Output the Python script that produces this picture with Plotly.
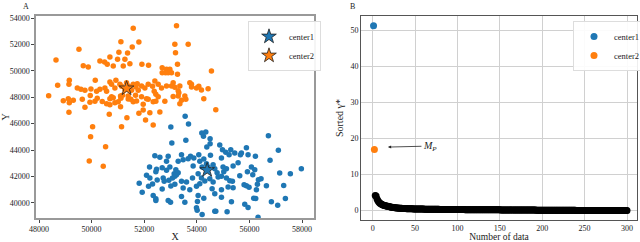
import plotly.graph_objects as go

# ---------------- Panel A data ----------------
orange_x = [53228, 51583, 51114, 51798, 53165, 53672, 51545, 49519, 51038, 51367, 53190,
            48646, 50696, 50316, 50987, 51266, 49683, 49873, 50493, 50595, 50823, 51203,
            51456, 51912, 52165, 52684, 52849, 52684, 52811, 52912, 52975, 53038, 53266,
            53266, 54557, 49152, 50139, 49747, 50316, 50696, 50759, 50924, 51076, 51329,
            51392, 51583, 51899, 52152, 52405, 52532, 52849, 53038, 53101, 53355, 53734,
            53798, 54177, 54430, 48709, 49456, 49595, 49975, 50190, 50506, 50570, 50886,
            51139, 51266, 51456, 51519, 51684, 51735, 51773, 52026, 52317, 52380, 52659,
            53165, 53292, 53798, 53988, 54076, 49139, 49646, 49114, 49304, 49937, 50127,
            50696, 50886, 50759, 51101, 51177, 51392, 51494, 51671, 51899, 52089, 52443,
            52532, 52785, 53292, 53317, 53545, 54266, 48367, 48924, 49152, 49139, 49747,
            49949, 50215, 50405, 50570, 50696, 50823, 51013, 51114, 51392, 51583, 51709,
            51962, 52152, 52342, 51101, 51342, 51798, 51962, 52051, 52215, 52443, 52595,
            53101, 53355, 53418, 53583, 54722, 50038, 49962, 50532, 51139, 52342, 49911,
            50443, 50671]
orange_y = [53443, 53240, 52228, 52202, 52025, 52025, 51822, 51645, 51417, 51367, 51392,
            50835, 51063, 50759, 50886, 50886, 50405, 50304, 50683, 50506, 50379, 50379,
            50557, 50506, 50430, 50253, 50126, 49873, 49873, 49873, 50126, 49873, 50506,
            49746, 50000, 49291, 49291, 48531, 48607, 49164, 48987, 49291, 48987, 49114,
            48860, 48987, 48860, 48987, 49240, 48987, 48860, 48860, 49114, 48860, 49114,
            48987, 48556, 48657, 48911, 48708, 48607, 48632, 48455, 48708, 48455, 48708,
            48835, 48581, 48784, 48531, 48784, 49038, 48531, 48708, 48835, 48455, 48708,
            48759, 48506, 48784, 48708, 48835, 48987, 47848, 47898, 47772, 47620, 47696,
            47899, 47595, 48050, 48101, 48152, 48101, 47848, 48152, 48050, 47899, 48227,
            48050, 47696, 48101, 48354, 48101, 47899, 48126, 47747, 47595, 46861, 47240,
            48139, 47937, 47684, 47506, 47443, 47975, 47671, 47924, 47873, 47671, 47722,
            47468, 47848, 47671, 47291, 46456, 46785, 47038, 46278, 46835, 47696, 46886,
            48063, 47506, 47785, 47848, 47063, 45772, 45012, 44253, 45772, 45898, 43164,
            42759, 46709]
orange_star_x = [51330]
orange_star_y = [48680]

blue_x = [53557, 53684, 53013, 53051, 53583, 54190, 54253, 54342, 54506, 54506, 54380,
          53418, 52912, 52405, 52595, 52849, 53292, 53481, 53671, 53760, 53886, 54076,
          54114, 54266, 54367, 54519, 54620, 54873, 54975, 55101, 54937, 55228, 55291,
          55443, 55696, 55658, 55886, 55949, 56228, 56722, 57101, 56785, 53861, 54203,
          54430, 54684, 54772, 55127, 54999, 55380, 55570, 56076, 56203, 52203, 52469,
          52684, 52975, 53203, 53139, 52849, 53292, 52089, 52215, 52443, 52494, 52722,
          52760, 52937, 53076, 53165, 53228, 53418, 53608, 53836, 54051, 54177, 54304,
          54494, 54620, 54810, 54937, 55025, 55127, 55253, 55355, 55633, 55924, 56127,
          56342, 56443, 57304, 57557, 57152, 57975, 51810, 52165, 52317, 52684, 53013,
          53165, 53481, 53734, 53988, 54114, 54582, 54937, 55190, 55380, 55798, 55886,
          56266, 55987, 56304, 56646, 51924, 52342, 52443, 52443, 52912, 53001, 53418,
          53545, 54051, 54025, 54266, 54684, 54937, 55317, 55823, 55949, 56164, 56240,
          56836, 57076, 57368, 54013, 54203, 54684, 54722, 55152, 54266, 56329, 53988]
blue_y = [46557, 45975, 45747, 44531, 44734, 45291, 45038, 45367, 44861, 44481, 44228,
          43645, 43519, 43569, 43443, 43139, 43139, 43265, 43341, 43519, 43392, 43645,
          43139, 43316, 42961, 43595, 42885, 44380, 44025, 43822, 43392, 43645, 44025,
          43772, 43772, 43645, 44177, 43645, 43519, 45088, 43974, 43214, 42783, 42708,
          42708, 42582, 42278, 42582, 42708, 42784, 43037, 42708, 42506, 42708, 42531,
          42658, 42708, 42506, 42202, 42455, 42278, 42075, 41873, 42354, 41721, 41873,
          41620, 41696, 41873, 41999, 42126, 41620, 41569, 41873, 42202, 41873, 41645,
          41823, 41569, 41949, 41999, 42354, 41873, 41670, 41620, 42050, 42354, 42126,
          41747, 41823, 41304, 42202, 42253, 42582, 41469, 41240, 41418, 41038, 41265,
          41392, 41114, 40987, 41240, 41443, 41063, 40987, 41189, 41139, 41367, 41291,
          40987, 41165, 41392, 41291, 40784, 40544, 40291, 40164, 40164, 40038, 40468,
          40038, 40544, 40088, 40341, 40670, 40418, 40063, 39886, 39632, 40341, 40316,
          40063, 39810, 40316, 39430, 39101, 39354, 39354, 39304, 38417, 38898, 39608]
blue_star_x = [54393]
blue_star_y = [42479]

# ---------------- Panel B data ----------------
c1_x, c1_y = [1], [51.2]
c2_x, c2_y = [2], [16.9]
rest_y = [
    4.20, 4.02, 3.30, 2.80, 2.42, 2.15, 1.95, 1.80, 1.68, 1.58,
    1.50, 1.42, 1.35, 1.29, 1.24, 1.19, 1.12, 1.06, 1.01, 0.96,
    0.91, 0.87, 0.83, 0.80, 0.77, 0.74, 0.72, 0.70, 0.68, 0.66,
    0.64, 0.62, 0.61, 0.59, 0.58, 0.57, 0.56, 0.55, 0.54, 0.53,
    0.52, 0.51, 0.50, 0.50, 0.49, 0.48, 0.48, 0.47, 0.46, 0.46,
    0.45, 0.45, 0.44, 0.44, 0.43, 0.43, 0.42, 0.42, 0.41, 0.41,
    0.40, 0.40, 0.39, 0.39, 0.39, 0.38, 0.38, 0.37, 0.37, 0.37,
    0.36, 0.36, 0.36, 0.35, 0.35, 0.35, 0.34, 0.34, 0.34, 0.33,
    0.33, 0.33, 0.33, 0.32, 0.32, 0.32, 0.32, 0.31, 0.31, 0.31,
    0.31, 0.30, 0.30, 0.30, 0.30, 0.30, 0.29, 0.29, 0.29, 0.29,
    0.29, 0.28, 0.28, 0.28, 0.28, 0.28, 0.27, 0.27, 0.27, 0.27,
    0.27, 0.26, 0.26, 0.26, 0.26, 0.26, 0.26, 0.25, 0.25, 0.25,
    0.25, 0.25, 0.25, 0.24, 0.24, 0.24, 0.24, 0.24, 0.24, 0.23,
    0.23, 0.23, 0.23, 0.23, 0.23, 0.22, 0.22, 0.22, 0.22, 0.22,
    0.22, 0.22, 0.21, 0.21, 0.21, 0.21, 0.21, 0.21, 0.20, 0.20,
    0.20, 0.20, 0.20, 0.20, 0.19, 0.19, 0.19, 0.19, 0.19, 0.19,
    0.18, 0.18, 0.18, 0.18, 0.18, 0.18, 0.17, 0.17, 0.17, 0.17,
    0.17, 0.17, 0.16, 0.16, 0.16, 0.16, 0.16, 0.16, 0.15, 0.15,
    0.15, 0.15, 0.15, 0.15, 0.14, 0.14, 0.14, 0.14, 0.14, 0.14,
    0.13, 0.13, 0.13, 0.13, 0.13, 0.13, 0.13, 0.12, 0.12, 0.12,
    0.12, 0.12, 0.12, 0.11, 0.11, 0.11, 0.11, 0.11, 0.11, 0.10,
    0.10, 0.10, 0.10, 0.10, 0.10, 0.10, 0.09, 0.09, 0.09, 0.09,
    0.09, 0.09, 0.09, 0.08, 0.08, 0.08, 0.08, 0.08, 0.08, 0.08,
    0.07, 0.07, 0.07, 0.07, 0.07, 0.07, 0.07, 0.06, 0.06, 0.06,
    0.06, 0.06, 0.06, 0.06, 0.06, 0.05, 0.05, 0.05, 0.05, 0.05,
    0.05, 0.05, 0.05, 0.05, 0.04, 0.04, 0.04, 0.04, 0.04, 0.04,
    0.04, 0.04, 0.04, 0.03, 0.03, 0.03, 0.03, 0.03, 0.03, 0.03,
    0.03, 0.03, 0.03, 0.02, 0.02, 0.02, 0.02, 0.02, 0.02, 0.02,
    0.02, 0.02, 0.02, 0.02, 0.01, 0.01, 0.01, 0.01, 0.01, 0.01,
    0.01, 0.01, 0.01, 0.01, 0.01, 0.00, 0.00, 0.00,
]
rest_x = list(range(3, 3 + len(rest_y)))

x_ticks_a = [48000, 50000, 52000, 54000, 56000, 58000]
y_ticks_a = [40000, 42000, 44000, 46000, 48000, 50000, 52000, 54000]
x_ticks_b = [0, 50, 100, 150, 200, 250, 300]
y_ticks_b = [0, 10, 20, 30, 40, 50]

BLUE = "#1f77b4"
ORANGE = "#ff7f0e"
FONT = "Liberation Serif"

fig = go.Figure()

# Panel A
fig.add_trace(go.Scatter(x=blue_x, y=blue_y, mode="markers", showlegend=False,
                         marker=dict(color=BLUE, size=5.5), xaxis="x", yaxis="y"))
fig.add_trace(go.Scatter(x=orange_x, y=orange_y, mode="markers", showlegend=False,
                         marker=dict(color=ORANGE, size=5.5), xaxis="x", yaxis="y"))
fig.add_trace(go.Scatter(x=blue_star_x, y=blue_star_y, mode="markers", name="center1",
                         marker=dict(color=BLUE, size=11, symbol="star",
                                     line=dict(color="#222", width=0.8)),
                         xaxis="x", yaxis="y", legend="legend"))
fig.add_trace(go.Scatter(x=orange_star_x, y=orange_star_y, mode="markers", name="center2",
                         marker=dict(color=ORANGE, size=11, symbol="star",
                                     line=dict(color="#222", width=0.8)),
                         xaxis="x", yaxis="y", legend="legend"))

# Panel B
fig.add_trace(go.Scatter(x=rest_x, y=rest_y, mode="markers", showlegend=False,
                         marker=dict(color="black", size=7), xaxis="x2", yaxis="y2"))
fig.add_trace(go.Scatter(x=c1_x, y=c1_y, mode="markers", name="center1",
                         marker=dict(color=BLUE, size=7), xaxis="x2", yaxis="y2",
                         legend="legend2"))
fig.add_trace(go.Scatter(x=c2_x, y=c2_y, mode="markers", name="center2",
                         marker=dict(color=ORANGE, size=7), xaxis="x2", yaxis="y2",
                         legend="legend2"))

tickfont = dict(family=FONT, size=8, color="#222")
labfont = dict(family=FONT, size=10, color="#222")
xlabfont = dict(family=FONT, size=9.5, color="#222")

fig.update_layout(
    width=640, height=242,
    margin=dict(l=0, r=0, t=0, b=0, autoexpand=False),
    paper_bgcolor="white", plot_bgcolor="white",
    font=dict(family=FONT, color="#222"),
    xaxis=dict(domain=[36/640, 314/640], range=[47886, 58456], tickvals=x_ticks_a,
               tickformat="d",
               ticks="outside", ticklen=3, tickcolor="#444", tickfont=tickfont,
               showgrid=False, zeroline=False, showline=True, linecolor="#999",
               linewidth=1.5, mirror=True,
               title=dict(text="X", font=labfont, standoff=2)),
    yaxis=dict(domain=[1-218/242, 1-16/242], range=[38838, 54175], tickvals=y_ticks_a,
               tickformat="d",
               ticks="outside", ticklen=3, tickcolor="#444", tickfont=tickfont,
               showgrid=False, zeroline=False, showline=True, linecolor="#999",
               linewidth=1.5, mirror=True,
               title=dict(text="Y", font=labfont, standoff=3)),
    xaxis2=dict(domain=[361/640, 637/640], range=[-13.8, 311.8], tickvals=x_ticks_b,
                ticks="", tickfont=tickfont, showgrid=True, gridcolor="#d0d0d0",
                gridwidth=1, zeroline=False, showline=True, linecolor="#555",
                linewidth=1, mirror=True, anchor="y2",
                title=dict(text="Number of data", font=xlabfont, standoff=3)),
    yaxis2=dict(domain=[1-220/242, 1-16/242], range=[-2.6, 53.9], tickvals=y_ticks_b,
                ticks="", tickfont=tickfont, showgrid=True, gridcolor="#d0d0d0",
                gridwidth=1, zeroline=False, showline=True, linecolor="#555",
                linewidth=1, mirror=True, anchor="x2",
                title=dict(text="Sorted γ*", font=labfont, standoff=4)),
    legend=dict(x=248/640, y=1-21/242, xanchor="left", yanchor="top",
                bgcolor="rgba(255,255,255,0.9)", bordercolor="#ddd", borderwidth=1,
                font=dict(family=FONT, size=8.5, color="#222"), itemwidth=30,
                tracegroupgap=0),
    legend2=dict(x=573/640, y=1-21/242, xanchor="left", yanchor="top",
                 bgcolor="rgba(255,255,255,0.9)", bordercolor="#ddd", borderwidth=1,
                 font=dict(family=FONT, size=8.5, color="#222"), itemwidth=30,
                 tracegroupgap=0),
    annotations=[
        dict(text="A", x=26/640, y=1-6/242, xref="paper", yref="paper",
             xanchor="center", yanchor="middle",
             showarrow=False, font=dict(family=FONT, size=8, color="#222")),
        dict(text="B", x=352/640, y=1-6/242, xref="paper", yref="paper",
             xanchor="center", yanchor="middle",
             showarrow=False, font=dict(family=FONT, size=8, color="#222")),
        dict(text="<i>M<sub>P</sub></i>", x=18, y=17.6, xref="x2", yref="y2",
             ax=42, ay=-1, showarrow=True, arrowhead=2, arrowsize=0.8,
             arrowwidth=0.8, arrowcolor="#222",
             font=dict(family=FONT, size=10, color="#222")),
    ],
)

fig.write_html("out.html", config={"displayModeBar": False},
               post_script="document.body.style.margin='0';document.body.style.padding='0';")
